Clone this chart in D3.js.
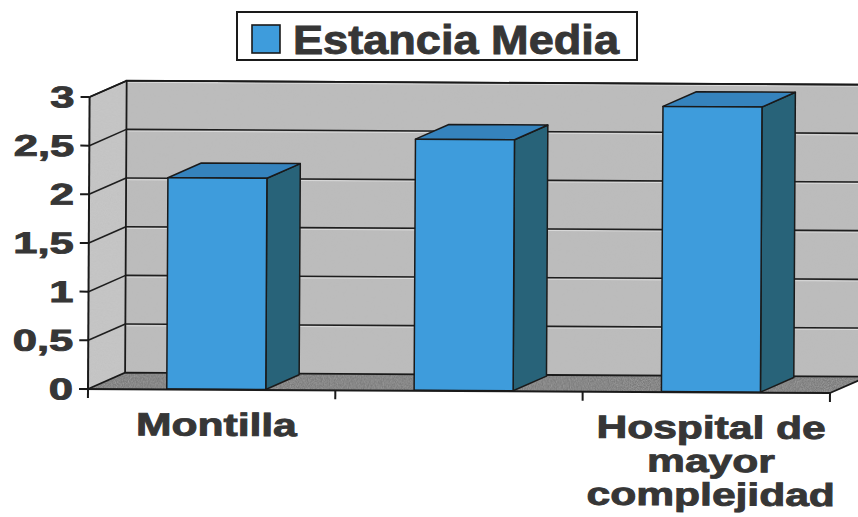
<!DOCTYPE html>
<html>
<head>
<meta charset="utf-8">
<script src="https://cdn.jsdelivr.net/npm/d3@7/dist/d3.min.js"></script>
<style>
  html, body { margin: 0; padding: 0; background: #ffffff; }
  svg { display: block; }
</style>
</head>
<body>
<div id="chart"></div>
<script>
// ---- data ----
const categories = ["Montilla", "", "Hospital de\nmayor\ncomplejidad"];
const seriesName = "Estancia Media";
const estanciaMedia = [2.17, 2.58, 2.93];
const yTicks = [0, 0.5, 1, 1.5, 2, 2.5, 3];

// ---- layout ----
const W = 858, H = 517;
const DX = 37, DY = -16.5;          // oblique depth offset of the 3D box
const Z0 = 0.03, Z1 = 0.93;         // bar depth range inside the box
const TILT = 0.31;                  // slight rotation of the whole drawing

const colors = {
  back: "#bcbcbc", side: "#c6c6c6", floor: "#7c7c7c",
  grid: "#1e1e1e", edge: "#1a1a1a",
  barFront: "#3e9cdc", barTop: "#3583bd", barSide: "#286379",
  text: "#363636"
};

const svg = d3.select("#chart").append("svg")
  .attr("width", W).attr("height", H);

const defs = svg.append("defs");
const grain = defs.append("filter").attr("id", "grain")
  .attr("x", 0).attr("y", 0).attr("width", 1).attr("height", 1);
grain.append("feTurbulence").attr("type", "fractalNoise")
  .attr("baseFrequency", 0.85).attr("numOctaves", 2).attr("seed", 4).attr("result", "n");
grain.append("feColorMatrix").attr("in", "n").attr("type", "matrix")
  .attr("values", "0 0 0 0 0.5  0 0 0 0 0.5  0 0 0 0 0.5  0.6 0.6 0 0 -0.45")
  .attr("result", "nn");
grain.append("feComposite").attr("in", "nn").attr("in2", "SourceGraphic")
  .attr("operator", "in").attr("result", "g");
const gm = grain.append("feMerge");
gm.append("feMergeNode").attr("in", "SourceGraphic");
gm.append("feMergeNode").attr("in", "g");

const root = svg.append("g")
  .attr("transform", `rotate(${TILT},88,389)`);

const x = d3.scaleBand().domain(d3.range(categories.length)).range([88, 830]);
const y = d3.scaleLinear().domain([0, 3]).range([389, 97]);

const P = (px, v, z) => [px + z * DX, y(v) + z * DY];
const poly = pts => "M" + pts.map(p => p.join(",")).join("L") + "Z";

const x0 = x.range()[0], x1 = x.range()[1];
const yMax = d3.max(yTicks);

// ---- walls ----
root.append("path")
  .attr("d", poly([P(x0, 0, 1), P(x1, 0, 1), P(x1, yMax, 1), P(x0, yMax, 1)]))
  .attr("fill", colors.back).attr("filter", "url(#grain)");
root.append("path")
  .attr("d", poly([P(x0, 0, 0), P(x0, yMax, 0), P(x0, yMax, 1), P(x0, 0, 1)]))
  .attr("fill", colors.side).attr("filter", "url(#grain)");
root.append("path")
  .attr("d", poly([P(x0, 0, 0), P(x1, 0, 0), P(x1, 0, 1), P(x0, 0, 1)]))
  .attr("fill", colors.floor).attr("filter", "url(#grain)");

// ---- gridlines ----
const grid = root.append("g");
yTicks.filter(t => t > 0).forEach(t => {
  const a = P(x0, t, 1), b = P(x1, t, 1), f = P(x0, t, 0);
  grid.append("line").attr("x1", a[0]).attr("y1", a[1] + 1.6).attr("x2", b[0]).attr("y2", b[1] + 1.6)
    .attr("stroke", "#ffffff").attr("stroke-opacity", 0.45).attr("stroke-width", 1);
  grid.append("line").attr("x1", a[0]).attr("y1", a[1]).attr("x2", b[0]).attr("y2", b[1])
    .attr("stroke", colors.grid).attr("stroke-width", 1.6);
  grid.append("line").attr("x1", f[0]).attr("y1", f[1]).attr("x2", a[0]).attr("y2", a[1])
    .attr("stroke", colors.grid).attr("stroke-width", 1.6);
});

// box edges
const edges = root.append("g").attr("stroke", colors.edge).attr("stroke-width", 1.8).attr("fill", "none");
edges.append("path").attr("d", "M" + [P(x0, 0, 1), P(x0, yMax, 1), P(x1, yMax, 1)].map(p => p.join(",")).join("L"));
edges.append("path").attr("d", "M" + [P(x0, yMax, 0), P(x0, yMax, 1)].map(p => p.join(",")).join("L"));
edges.append("path").attr("d", "M" + [P(x0, 0, 0), P(x0, 0, 1), P(x1, 0, 1)].map(p => p.join(",")).join("L"));
edges.append("path").attr("d", "M" + [P(x1, 0, 0), P(x1, 0, 1)].map(p => p.join(",")).join("L"));

// ---- bars ----
const barW = 99;
const barOff = 3.5;
const bars = root.append("g").attr("stroke", colors.edge).attr("stroke-width", 1.5)
  .attr("stroke-linejoin", "round");
estanciaMedia.forEach((v, i) => {
  const bl = x(i) + (x.bandwidth() - barW) / 2 + barOff;
  const br = bl + barW;
  bars.append("path").attr("fill", colors.barSide)
    .attr("d", poly([P(br, 0, Z0), P(br, v, Z0), P(br, v, Z1), P(br, 0, Z1)]));
  bars.append("path").attr("fill", colors.barTop)
    .attr("d", poly([P(bl, v, Z0), P(br, v, Z0), P(br, v, Z1), P(bl, v, Z1)]));
  bars.append("path").attr("fill", colors.barFront)
    .attr("d", poly([P(bl, 0, Z0), P(br, 0, Z0), P(br, v, Z0), P(bl, v, Z0)]));
});

// ---- axes ----
const fmt = d3.formatLocale({ decimal: ",", thousands: ".", grouping: [3], currency: ["", "€"] }).format("~g");
const fontFam = "'Liberation Sans', Arial, sans-serif";

const yAxis = root.append("g");
yAxis.append("line").attr("x1", x0).attr("x2", x0).attr("y1", y(yMax)).attr("y2", y(0))
  .attr("stroke", colors.edge).attr("stroke-width", 2);
yTicks.forEach(t => {
  yAxis.append("line").attr("x1", x0 - 9).attr("x2", x0).attr("y1", y(t)).attr("y2", y(t))
    .attr("stroke", colors.edge).attr("stroke-width", 2);
  yAxis.append("g").attr("transform", `translate(73,${y(t) + 10.5}) scale(1.45,1)`)
    .append("text")
    .attr("text-anchor", "end")
    .attr("font-family", fontFam)
    .attr("font-weight", "bold").attr("font-size", 30)
    .attr("fill", colors.text).attr("stroke", colors.text).attr("stroke-width", 0.9)
    .text(fmt(t));
});

const xAxis = root.append("g");
xAxis.append("line").attr("x1", x0 - 9).attr("x2", x1).attr("y1", y(0)).attr("y2", y(0))
  .attr("stroke", colors.edge).attr("stroke-width", 2);
d3.range(categories.length + 1).forEach(i => {
  const tx = x0 + i * x.bandwidth();
  xAxis.append("line").attr("x1", tx).attr("x2", tx).attr("y1", y(0)).attr("y2", y(0) + 9)
    .attr("stroke", colors.edge).attr("stroke-width", 2);
});
categories.forEach((c, i) => {
  const cx = x(i) + x.bandwidth() / 2 + 5;
  c.split("\n").filter(s => s.length).forEach((line, k) => {
    xAxis.append("g").attr("transform", `translate(${cx},${435 + k * 33.5}) scale(1.33,1)`)
      .append("text")
      .attr("text-anchor", "middle")
      .attr("font-family", fontFam)
      .attr("font-weight", "bold").attr("font-size", 32)
      .attr("fill", colors.text).attr("stroke", colors.text).attr("stroke-width", 0.9)
      .text(line);
  });
});

// ---- legend ----
const legend = svg.append("g");
legend.append("rect").attr("x", 237).attr("y", 12).attr("width", 400).attr("height", 48)
  .attr("fill", "#ffffff").attr("stroke", colors.edge).attr("stroke-width", 2);
legend.append("rect").attr("x", 252).attr("y", 25).attr("width", 28).attr("height", 28)
  .attr("fill", colors.barFront).attr("stroke", colors.edge).attr("stroke-width", 1.6);
legend.append("text").attr("x", 293).attr("y", 54)
  .attr("font-family", fontFam)
  .attr("font-weight", "bold").attr("font-size", 40)
  .attr("textLength", 326).attr("lengthAdjust", "spacingAndGlyphs")
  .attr("fill", colors.text).attr("stroke", colors.text).attr("stroke-width", 0.9)
  .text(seriesName);
</script>
</body>
</html>
